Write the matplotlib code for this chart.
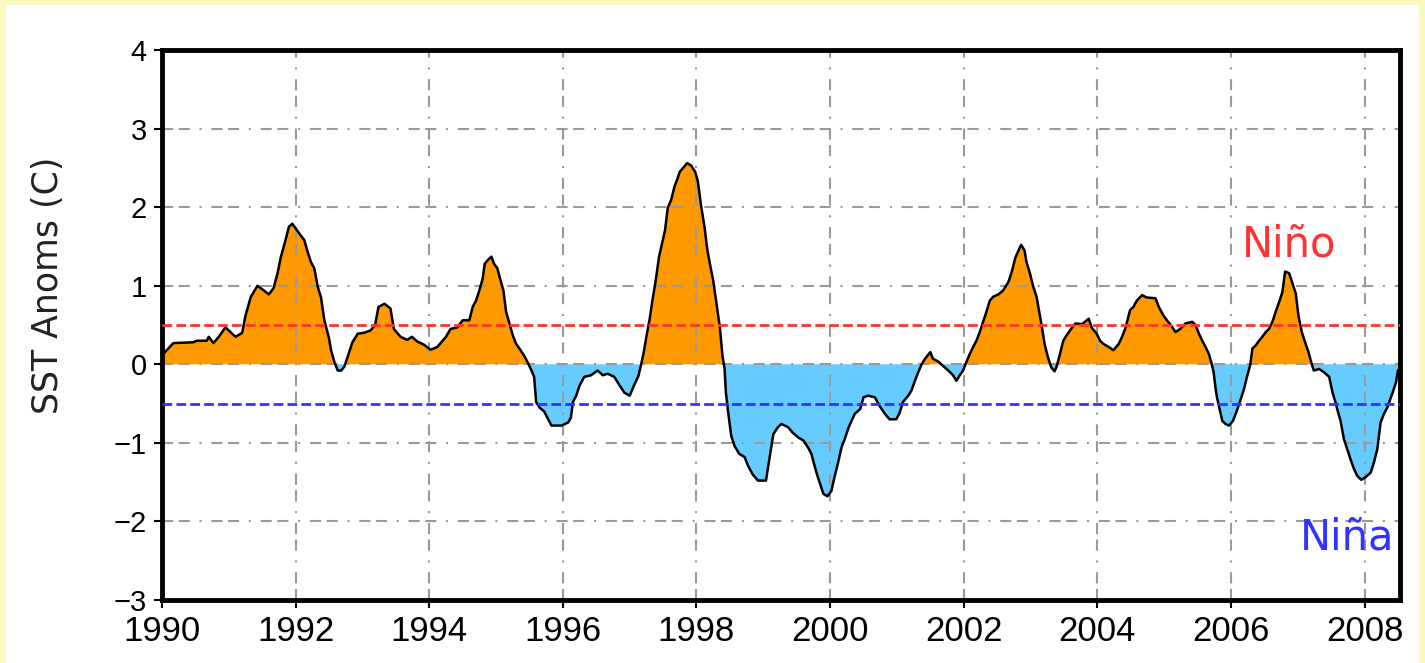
import numpy as np
import matplotlib.pyplot as plt
from matplotlib.patches import Rectangle

# SST anomaly, split into a few chunks (decimal year, deg C)
yrs_a = [1990.00, 1990.05, 1990.17, 1990.47, 1990.52, 1990.67, 1990.70, 1990.77,
         1990.85, 1990.95, 1991.10, 1991.20, 1991.25, 1991.33, 1991.43, 1991.60,
         1991.67, 1991.73, 1991.78, 1991.83, 1991.90, 1991.95, 1992.00, 1992.05,
         1992.13, 1992.18, 1992.23, 1992.28, 1992.33, 1992.38, 1992.43, 1992.50,
         1992.53, 1992.58, 1992.63, 1992.68, 1992.73, 1992.80, 1992.85, 1992.93,
         1993.02, 1993.12, 1993.19, 1993.24, 1993.33, 1993.42, 1993.47, 1993.57,
         1993.67, 1993.74, 1993.82, 1993.92, 1994.02, 1994.12, 1994.25, 1994.32,
         1994.42, 1994.50, 1994.60, 1994.65, 1994.70, 1994.75, 1994.80, 1994.83,
         1994.88, 1994.93, 1994.97]
sst_a = [0.12, 0.16, 0.27, 0.28, 0.30, 0.30, 0.35, 0.27,
         0.35, 0.47, 0.35, 0.40, 0.62, 0.86, 1.00, 0.89,
         0.97, 1.16, 1.37, 1.52, 1.75, 1.79, 1.73, 1.67,
         1.58, 1.43, 1.30, 1.22, 0.99, 0.85, 0.56, 0.33,
         0.18, 0.03, -0.08, -0.08, -0.03, 0.15, 0.28, 0.39,
         0.40, 0.43, 0.50, 0.73, 0.77, 0.71, 0.45, 0.35,
         0.31, 0.35, 0.29, 0.25, 0.185, 0.22, 0.35, 0.45,
         0.47, 0.56, 0.56, 0.73, 0.81, 0.94, 1.09, 1.28,
         1.33, 1.37, 1.28]

yrs_b = [1995.02, 1995.06, 1995.11, 1995.15, 1995.20, 1995.25, 1995.30, 1995.35,
         1995.42, 1995.47, 1995.52, 1995.57, 1995.60, 1995.65, 1995.72, 1995.78,
         1995.83, 1995.98, 1996.08, 1996.12, 1996.15, 1996.20, 1996.25, 1996.32,
         1996.42, 1996.52, 1996.60, 1996.67, 1996.77, 1996.85, 1996.92, 1997.00,
         1997.07, 1997.13, 1997.17, 1997.21, 1997.25, 1997.30, 1997.34, 1997.39,
         1997.44, 1997.48, 1997.53, 1997.57, 1997.62, 1997.67, 1997.71, 1997.75,
         1997.80, 1997.86, 1997.92, 1997.98, 1998.02, 1998.07, 1998.12, 1998.16,
         1998.20, 1998.25, 1998.30, 1998.35, 1998.39, 1998.42, 1998.44, 1998.48,
         1998.52, 1998.57, 1998.64, 1998.72, 1998.77, 1998.84, 1998.92, 1999.04,
         1999.10, 1999.15, 1999.22, 1999.27, 1999.37, 1999.44, 1999.52, 1999.60,
         1999.67, 1999.72, 1999.76, 1999.81, 1999.86, 1999.90, 1999.96]
sst_b = [1.22, 1.09, 0.94, 0.67, 0.52, 0.37, 0.26, 0.20,
         0.11, 0.03, -0.06, -0.16, -0.48, -0.55, -0.60, -0.70,
         -0.78, -0.78, -0.74, -0.68, -0.48, -0.40, -0.27, -0.16,
         -0.14, -0.08, -0.14, -0.12, -0.16, -0.27, -0.36, -0.40,
         -0.26, -0.15, -0.01, 0.15, 0.35, 0.58, 0.81, 1.07,
         1.37, 1.52, 1.71, 1.99, 2.09, 2.26, 2.35, 2.45,
         2.50, 2.56, 2.53, 2.45, 2.33, 2.01, 1.75, 1.47,
         1.28, 1.07, 0.77, 0.47, 0.10, -0.05, -0.36, -0.65,
         -0.91, -1.04, -1.14, -1.18, -1.29, -1.40, -1.48, -1.48,
         -1.16, -0.89, -0.80, -0.76, -0.80, -0.87, -0.93, -0.97,
         -1.06, -1.14, -1.27, -1.42, -1.55, -1.65, -1.68]

yrs_c = [2000.02, 2000.07, 2000.12, 2000.17, 2000.22, 2000.27, 2000.32, 2000.37,
         2000.45, 2000.50, 2000.57, 2000.67, 2000.74, 2000.82, 2000.89, 2000.99,
         2001.04, 2001.09, 2001.17, 2001.22, 2001.27, 2001.32, 2001.37, 2001.42,
         2001.50, 2001.54, 2001.62, 2001.69, 2001.77, 2001.84, 2001.89, 2001.94,
         2001.99, 2002.04, 2002.09, 2002.14, 2002.19, 2002.24, 2002.29, 2002.34,
         2002.39, 2002.44, 2002.52, 2002.59, 2002.67, 2002.72, 2002.77, 2002.82,
         2002.86, 2002.91, 2002.94, 2002.99, 2003.04, 2003.09, 2003.13, 2003.17,
         2003.21, 2003.26, 2003.31, 2003.36, 2003.39, 2003.44, 2003.49, 2003.54,
         2003.59, 2003.67, 2003.77, 2003.87, 2003.92, 2003.99, 2004.04, 2004.09,
         2004.17, 2004.24, 2004.32, 2004.37, 2004.42, 2004.49, 2004.54, 2004.59,
         2004.67, 2004.74, 2004.87, 2004.92, 2004.99]
sst_c = [-1.61, -1.42, -1.25, -1.06, -0.95, -0.82, -0.72, -0.63,
         -0.57, -0.42, -0.40, -0.42, -0.53, -0.63, -0.70, -0.70,
         -0.62, -0.48, -0.40, -0.33, -0.21, -0.10, 0.00, 0.07,
         0.155, 0.07, 0.035, -0.02, -0.08, -0.14, -0.21, -0.14,
         -0.08, 0.03, 0.13, 0.22, 0.30, 0.41, 0.54, 0.67,
         0.81, 0.86, 0.89, 0.94, 1.05, 1.18, 1.35, 1.45,
         1.52, 1.45, 1.30, 1.16, 0.99, 0.86, 0.67, 0.475,
         0.26, 0.09, -0.04, -0.09, -0.03, 0.13, 0.30, 0.37,
         0.43, 0.52, 0.51, 0.58, 0.46, 0.39, 0.30, 0.26,
         0.22, 0.18, 0.26, 0.35, 0.46, 0.69, 0.73, 0.81,
         0.88, 0.85, 0.84, 0.73, 0.62]

yrs_d = [2005.05, 2005.10, 2005.17, 2005.24, 2005.32, 2005.42, 2005.47, 2005.52,
         2005.57, 2005.62, 2005.67, 2005.71, 2005.74, 2005.77, 2005.79, 2005.83,
         2005.87, 2005.92, 2005.97, 2006.03, 2006.08, 2006.14, 2006.19, 2006.24,
         2006.29, 2006.32, 2006.37, 2006.42, 2006.47, 2006.52, 2006.57, 2006.62,
         2006.67, 2006.72, 2006.77, 2006.81, 2006.87, 2006.92, 2006.97, 2007.01,
         2007.06, 2007.11, 2007.16, 2007.21, 2007.24, 2007.32, 2007.39, 2007.47,
         2007.52, 2007.57, 2007.59, 2007.64, 2007.69, 2007.74, 2007.79, 2007.84,
         2007.89, 2007.95, 2008.01, 2008.09, 2008.14, 2008.19, 2008.24, 2008.29,
         2008.34, 2008.42, 2008.47, 2008.50]
sst_d = [0.55, 0.50, 0.41, 0.45, 0.52, 0.54, 0.50, 0.39,
         0.30, 0.22, 0.13, 0.01, -0.10, -0.31, -0.42, -0.57,
         -0.72, -0.76, -0.78, -0.72, -0.61, -0.46, -0.33, -0.16,
         0.00, 0.20, 0.24, 0.30, 0.35, 0.41, 0.45, 0.54,
         0.67, 0.79, 0.92, 1.18, 1.16, 1.03, 0.90, 0.62,
         0.41, 0.28, 0.155, 0.00, -0.08, -0.06, -0.10, -0.16,
         -0.36, -0.50, -0.57, -0.72, -0.95, -1.08, -1.21, -1.33,
         -1.42, -1.47, -1.44, -1.38, -1.25, -1.08, -0.74, -0.63,
         -0.55, -0.36, -0.23, -0.08]

x_ticks = list(range(1990, 2009, 2))
y_ticks = list(range(-3, 5))
nino_level = 0.5
nina_level = -0.5

t = np.array(yrs_a + yrs_b + yrs_c + yrs_d)
v = np.array(sst_a + sst_b + sst_c + sst_d)

plt.rcParams['lines.scale_dashes'] = False
plt.rcParams['font.family'] = ['Liberation Sans', 'DejaVu Sans']

fig = plt.figure(figsize=(14.25, 6.63), dpi=100)
fig.patch.set_facecolor('#FAFABE')
# white panel inside the pale yellow frame
fig.add_artist(Rectangle((6 / 1425, 0), 1413 / 1425, 658 / 663,
                         transform=fig.transFigure, facecolor='white',
                         edgecolor='none', zorder=0))

ax = fig.add_axes([162 / 1425, 1 - 600 / 663, 1238 / 1425, 550 / 663])
ax.set_facecolor('white')

ax.fill_between(t, v, 0, where=v >= 0, interpolate=True, color='#FF9900',
                linewidth=0, zorder=1)
ax.fill_between(t, v, 0, where=v <= 0, interpolate=True, color='#66CCFF',
                linewidth=0, zorder=1)
ax.plot(t, v, color='black', linewidth=1.8, zorder=2)

ax.axhline(nino_level, color='#FF3333', linewidth=2, linestyle=(0, (7, 3)), zorder=3)
ax.axhline(nina_level, color='#3333FF', linewidth=2, linestyle=(0, (7, 3)), zorder=3)

ax.text(2006.87, 1.37, 'Niño', color='#FF3333', fontsize=30, ha='center',
        va='baseline', family=['DejaVu Sans'])
ax.text(2007.74, -2.36, 'Niña', color='#3333FF', fontsize=30, ha='center',
        va='baseline', family=['DejaVu Sans'])

ax.set_xlim(1990, 2008.53)
ax.set_ylim(-3, 4)
ax.set_xticks(x_ticks)
ax.set_yticks(y_ticks)
ax.grid(True, color='#9A9A9A', linewidth=1.5,
        linestyle=(0, (8, 4, 8, 7, 1.5, 7)))

for s in ax.spines.values():
    s.set_linewidth(3.5)
    s.set_color('black')

ax.tick_params(axis='x', labelsize=25, length=6, width=1.5, pad=5)
ax.tick_params(axis='y', labelsize=21, length=6, width=1.5, pad=5)
ax.set_ylabel('SST Anoms (C)', fontsize=25, color='#222222',
              family=['DejaVu Sans'])
ax.yaxis.set_label_coords(-0.078, 0.573)

fig.savefig('out.png', dpi=100, facecolor=fig.get_facecolor())
